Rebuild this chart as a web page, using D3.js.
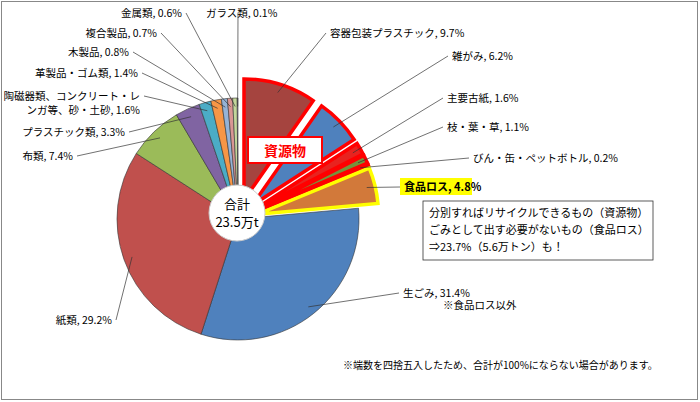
<!DOCTYPE html>
<html><head><meta charset="utf-8">
<script src="https://cdn.jsdelivr.net/npm/d3@7"></script>
<style>body{margin:0;background:#fff}text{font-family:"Noto Sans CJK JP",sans-serif}</style>
</head><body><svg id="chart" width="700" height="402"></svg>
<script>
// data
var names = ["容器包装プラスチック","雑がみ","主要古紙","枝・葉・草","びん・缶・ペットボトル","食品ロス","生ごみ","紙類","布類","プラスチック類","陶磁器類、コンクリート・レンガ等、砂・土砂","革製品・ゴム類","木製品","複合製品","金属類","ガラス類"];
var values = [9.7,6.2,1.6,1.1,0.2,4.8,31.4,29.2,7.4,3.3,1.6,1.4,0.8,0.7,0.6,0.1];
var colors = ["#a5443f","#4f81bd","#e8231f","#77933c","#4bacc6","#d2793a","#4f81bd","#c0504d","#9bbb59","#8064a2","#4bacc6","#f79646","#95b3d7","#d99694","#c3d69b","#b3a2c7"];
// group: 1 = 資源物 (red outline), 2 = 食品ロス (yellow outline), 0 = normal
var groups = [1,1,1,1,1,2,0,0,0,0,0,0,0,0,0,0];
// label layout: [x, y, anchor]
var labelPos = [[330,37,"start"],[452,60,"start"],[447,102,"start"],[447,131,"start"],[473,162,"start"],[404,191,"start"],[403,297,"start"],[112,324,"end"],[73,160,"end"],[125,136,"end"],[140,114,"end"],[138,77,"end"],[129,56,"end"],[157,37,"end"],[182,17,"end"],[206,17,"start"]];

var svg = d3.select("#chart");
svg.append("rect").attr("x",1.5).attr("y",1.5).attr("width",696).attr("height",398)
  .attr("fill","none").attr("stroke","#888");

var cx = 238, cy = 219, r = 121;
var pie = d3.pie().sort(null).value(d => d)(values);
var arc = d3.arc().innerRadius(0).outerRadius(r);
var g = svg.append("g").attr("transform","translate("+cx+","+cy+")");

function offset(i){
  var a = (pie[i].startAngle + pie[i].endAngle)/2, k = groups[i] ? 20 : 0;
  return [Math.sin(a)*k, -Math.cos(a)*k];
}

// leader lines
pie.forEach((p,i) => {
  var a = (p.startAngle+p.endAngle)/2, o = offset(i);
  var px = Math.sin(a)*r*0.93 + o[0] + cx, py = -Math.cos(a)*r*0.93 + o[1] + cy;
  var lp = labelPos[i], lx = lp[2]=="start" ? lp[0]-4 : lp[0]+4;
  var ly = lp[1]-4;
  if (i==10) ly = lp[1]-18;
  if (i==15) { lx = 238; ly = lp[1]-4; }
  svg.append("line").attr("x1",px).attr("y1",py).attr("x2",lx).attr("y2",ly)
    .attr("stroke","#333").attr("stroke-width",0.7);
});

// slices
g.selectAll("path.s").data(pie).enter().append("path")
  .attr("d",arc)
  .attr("transform",(d,i) => "translate("+offset(i)+")")
  .attr("fill",(d,i) => colors[i])
  .attr("stroke",(d,i) => groups[i]==1 ? "#ff0000" : groups[i]==2 ? "#ffff00" : "#333")
  .attr("stroke-width",(d,i) => groups[i] ? 3.5 : 0.6)
  .attr("stroke-linejoin","miter");

// labels
pie.forEach((p,i) => {
  var lp = labelPos[i], txt = names[i] + ", " + values[i].toFixed(1) + "%";
  if (i==10) {
    svg.append("text").attr("x",lp[0]).attr("y",lp[1]-14).attr("text-anchor","end").attr("font-size",10.5).text("陶磁器類、コンクリート・レ");
    svg.append("text").attr("x",lp[0]).attr("y",lp[1]).attr("text-anchor","end").attr("font-size",10.5).text("ンガ等、砂・土砂, 1.6%");
    return;
  }
  if (i==5) {
    svg.append("rect").attr("x",lp[0]-4).attr("y",lp[1]-13).attr("width",72).attr("height",17).attr("fill","#ffff00");
  }
  svg.append("text").attr("x",lp[0]).attr("y",lp[1]).attr("text-anchor",lp[2])
    .attr("font-size", i==5 ? 11 : 10.5).attr("font-weight", i==5 ? "bold" : null).text(txt);
});
svg.append("text").attr("x",443).attr("y",309).attr("font-size",10.5).text("※食品ロス以外");

// 資源物 box
svg.append("rect").attr("x",248).attr("y",137).attr("width",74).attr("height",26)
  .attr("fill","#fff").attr("stroke","#ff0000").attr("stroke-width",2);
svg.append("text").attr("x",285).attr("y",156).attr("text-anchor","middle").attr("fill","#ff0000")
  .attr("font-size",14).attr("font-weight","bold").text("資源物");

// total circle
svg.append("circle").attr("cx",237).attr("cy",213).attr("r",28).attr("fill","#fff").attr("stroke","#ccc");
svg.append("text").attr("x",237).attr("y",209).attr("text-anchor","middle").attr("font-size",13).text("合計");
svg.append("text").attr("x",237).attr("y",227).attr("text-anchor","middle").attr("font-size",13).text("23.5万t");

// note box
svg.append("rect").attr("x",423).attr("y",201).attr("width",230).attr("height",59)
  .attr("fill","#fff").attr("stroke","#333").attr("stroke-width",0.8);
["分別すればリサイクルできるもの（資源物）","ごみとして出す必要がないもの（食品ロス）","⇒23.7%（5.6万トン）も！"].forEach((t,i) => {
  svg.append("text").attr("x",429).attr("y",217+i*17).attr("font-size",11).text(t);
});

svg.append("text").attr("x",343).attr("y",369).attr("font-size",10).text("※端数を四捨五入したため、合計が100%にならない場合があります。");
</script></body></html>
